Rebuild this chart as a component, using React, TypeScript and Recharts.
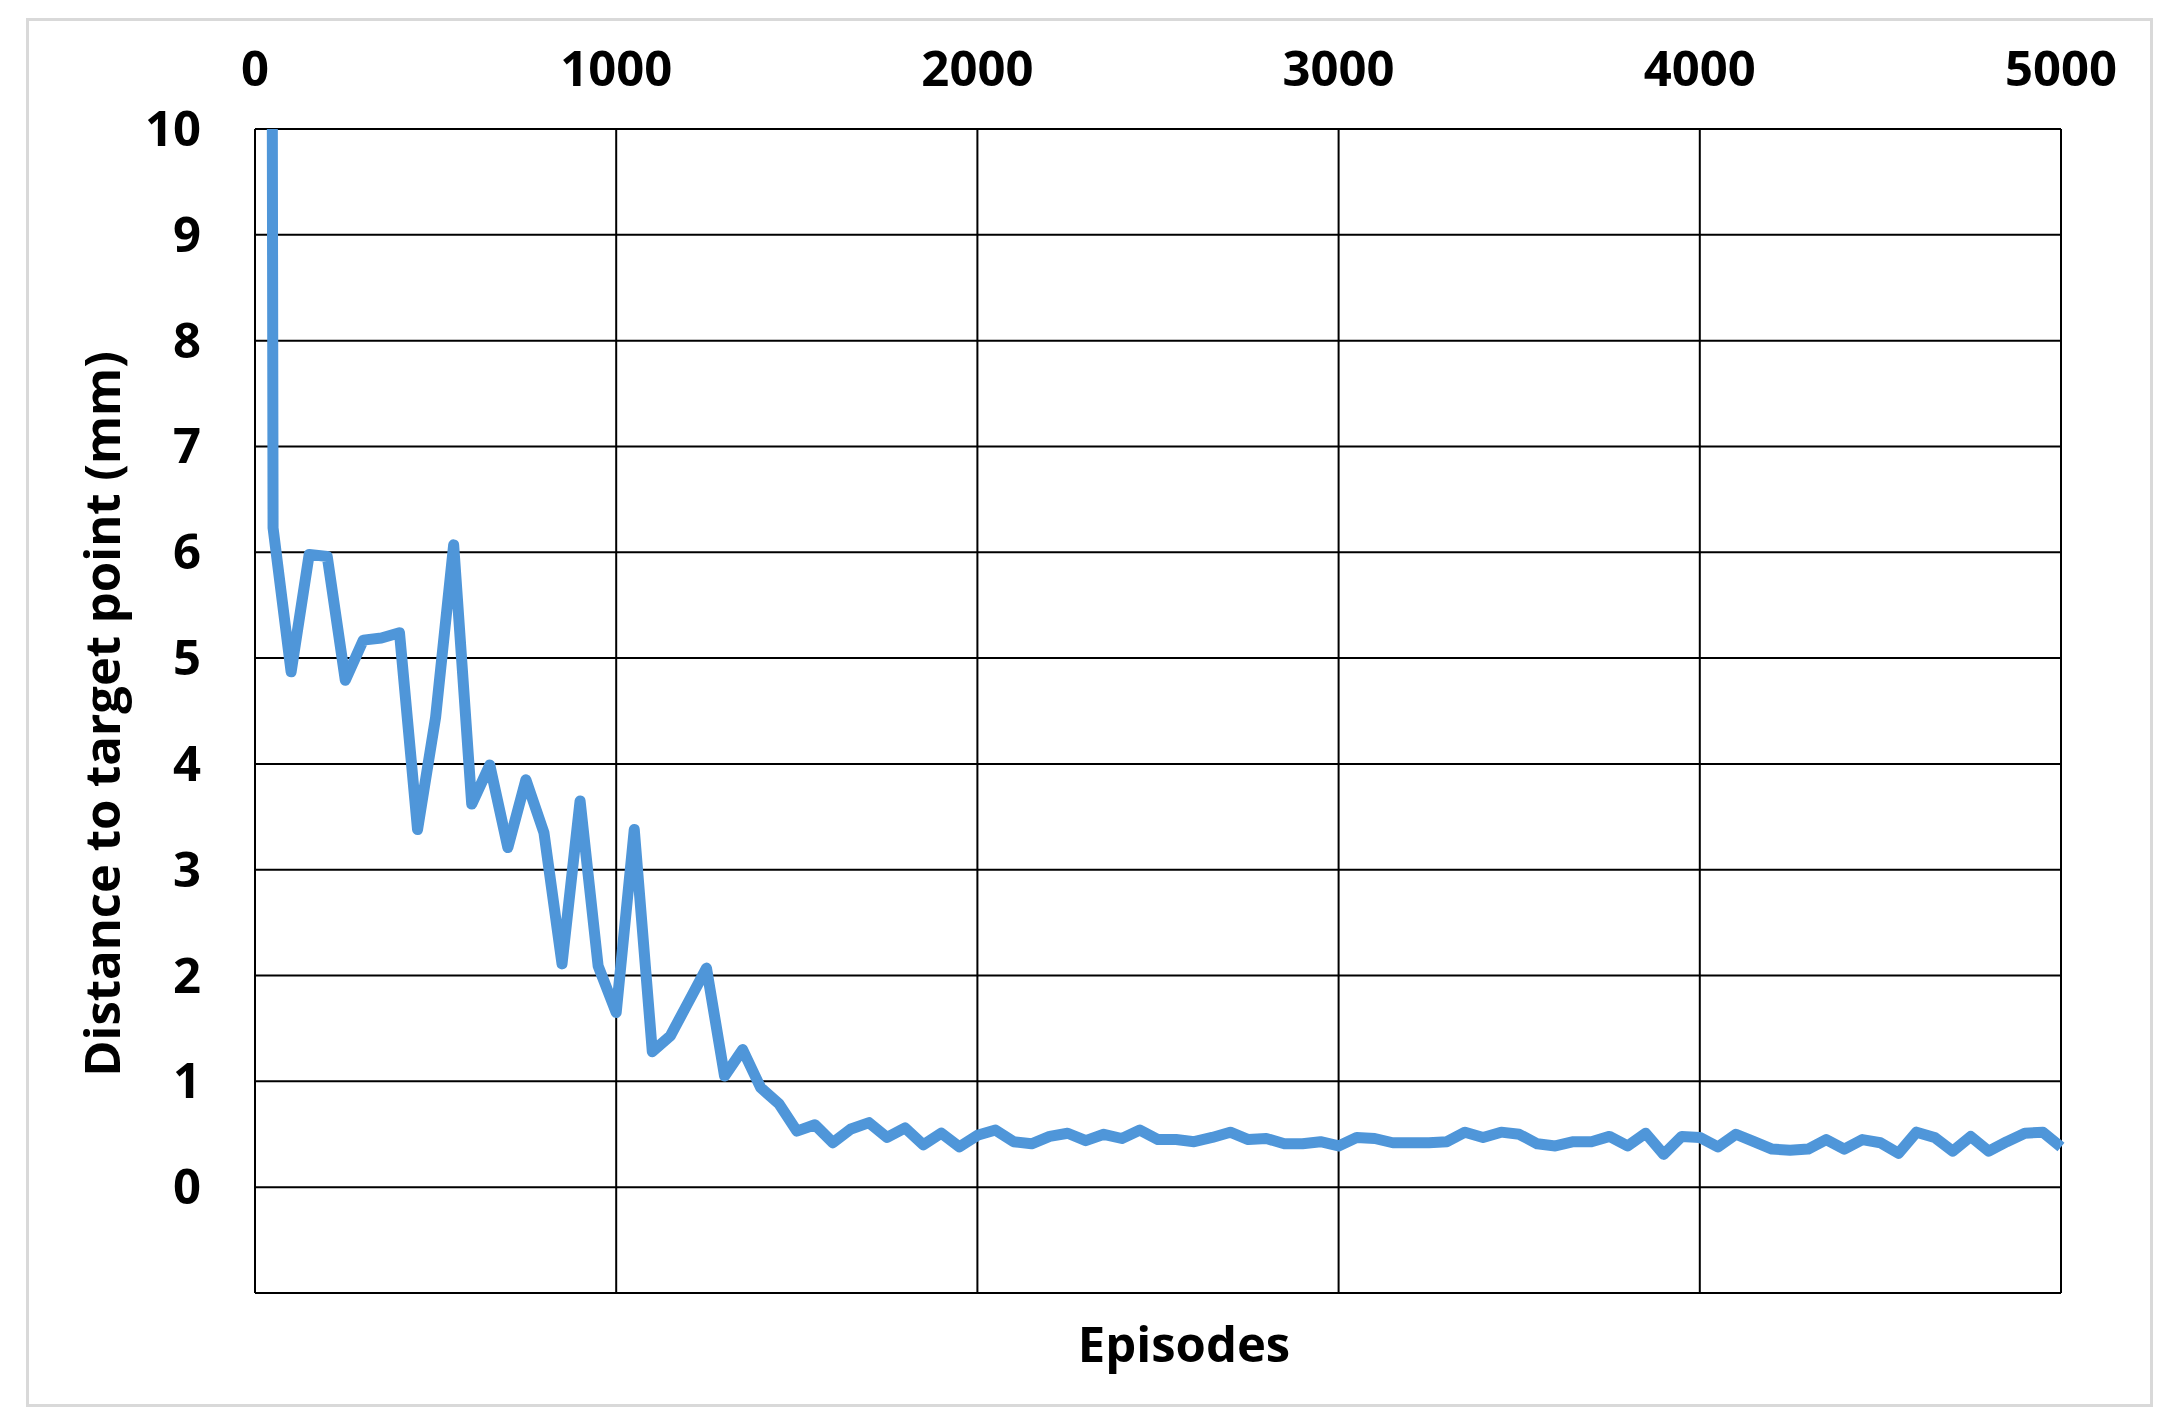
import React from "react";
import { LineChart, Line, XAxis, YAxis, CartesianGrid } from "recharts";

const episodes = [
  0, 50, 100, 150, 200, 250, 300, 350, 400, 450,
  500, 550, 600, 650, 700, 750, 800, 850, 900, 950,
  1000, 1050, 1100, 1150, 1200, 1250, 1300, 1350, 1400, 1450,
  1500, 1550, 1600, 1650, 1700, 1750, 1800, 1850, 1900, 1950,
  2000, 2050, 2100, 2150, 2200, 2250, 2300, 2350, 2400, 2450,
  2500, 2550, 2600, 2650, 2700, 2750, 2800, 2850, 2900, 2950,
  3000, 3050, 3100, 3150, 3200, 3250, 3300, 3350, 3400, 3450,
  3500, 3550, 3600, 3650, 3700, 3750, 3800, 3850, 3900, 3950,
  4000, 4050, 4100, 4150, 4200, 4250, 4300, 4350, 4400, 4450,
  4500, 4550, 4600, 4650, 4700, 4750, 4800, 4850, 4900, 4950,
  5000,
];

const distance = [
  100, 6.23, 4.87, 5.98, 5.96, 4.79, 5.17, 5.19, 5.24, 3.38,
  4.44, 6.07, 3.62, 3.99, 3.21, 3.85, 3.35, 2.11, 3.65, 2.09,
  1.65, 3.38, 1.28, 1.43, 1.75, 2.07, 1.05, 1.3, 0.94, 0.79,
  0.53, 0.59, 0.42, 0.55, 0.61, 0.47, 0.56, 0.4, 0.51, 0.38,
  0.49, 0.54, 0.43, 0.41, 0.48, 0.51, 0.44, 0.5, 0.46, 0.54,
  0.45, 0.45, 0.43, 0.47, 0.52, 0.45, 0.46, 0.41, 0.41, 0.43,
  0.39, 0.47, 0.46, 0.42, 0.42, 0.42, 0.43, 0.52, 0.47, 0.52,
  0.5, 0.41, 0.39, 0.43, 0.43, 0.48, 0.39, 0.51, 0.31, 0.48,
  0.47, 0.38, 0.5, 0.43, 0.36, 0.35, 0.36, 0.45, 0.36, 0.45,
  0.42, 0.32, 0.52, 0.47, 0.34, 0.48, 0.34, 0.43, 0.51, 0.52,
  0.38,
];

const xTicks = [0, 1000, 2000, 3000, 4000, 5000];
const yTicks = [-1, 0, 1, 2, 3, 4, 5, 6, 7, 8, 9, 10];

const xTitle = "Episodes";
const yTitle = "Distance to target point (mm)";

const data = episodes.map((e, i) => ({ episode: e, distance: distance[i] }));

const FONT = "'Open Sans', 'Noto Sans', sans-serif";
const FS = 49;

const XTick = (props: any) => {
  const { x, payload } = props;
  return (
    <text x={x} y={86} textAnchor="middle" fontFamily={FONT} fontWeight={700} fontSize={FS} fill="#000">
      {payload.value}
    </text>
  );
};

const YTick = (props: any) => {
  const { y, payload } = props;
  if (payload.value < 0) return <g />;
  return (
    <text x={201} y={y + 17} textAnchor="end" fontFamily={FONT} fontWeight={700} fontSize={FS} fill="#000">
      {payload.value}
    </text>
  );
};

export default function App() {
  return (
    <div style={{ position: "fixed", left: 0, top: 0, width: 2176, height: 1428, background: "#fff" }}>
      <div
        style={{
          position: "absolute",
          left: 26,
          top: 18,
          width: 2127,
          height: 1389,
          border: "3px solid #d9d9d9",
          boxSizing: "border-box",
        }}
      />
      <div style={{ position: "absolute", left: 0, top: 0 }}>
        <LineChart
          width={2176}
          height={1428}
          data={data}
          margin={{ top: 29, left: 55, right: 115, bottom: 135 }}
        >
          <CartesianGrid stroke="#000" strokeWidth={2} vertical horizontal />
          <XAxis
            dataKey="episode"
            type="number"
            orientation="top"
            domain={[0, 5000]}
            ticks={xTicks}
            height={100}
            axisLine={false}
            tickLine={false}
            tick={XTick}
            interval={0}
          />
          <YAxis
            type="number"
            domain={[-1, 10]}
            ticks={yTicks}
            width={200}
            axisLine={false}
            tickLine={false}
            tick={YTick}
            interval={0}
            allowDataOverflow
          />
          <Line
            dataKey="distance"
            type="linear"
            stroke="#4f96d9"
            strokeWidth={11}
            strokeLinejoin="round"
            dot={false}
            activeDot={false}
            isAnimationActive={false}
          />
        </LineChart>
      </div>
      <svg
        width={2176}
        height={1428}
        style={{ position: "absolute", left: 0, top: 0, pointerEvents: "none" }}
      >
        <text x={1184} y={1362} textAnchor="middle" fontFamily={FONT} fontWeight={700} fontSize={FS} fill="#000">
          {xTitle}
        </text>
        <text
          x={120}
          y={714}
          transform="rotate(-90 120 714)"
          textAnchor="middle"
          fontFamily={FONT}
          fontWeight={700}
          fontSize={FS}
          fill="#000"
        >
          {yTitle}
        </text>
      </svg>
    </div>
  );
}
